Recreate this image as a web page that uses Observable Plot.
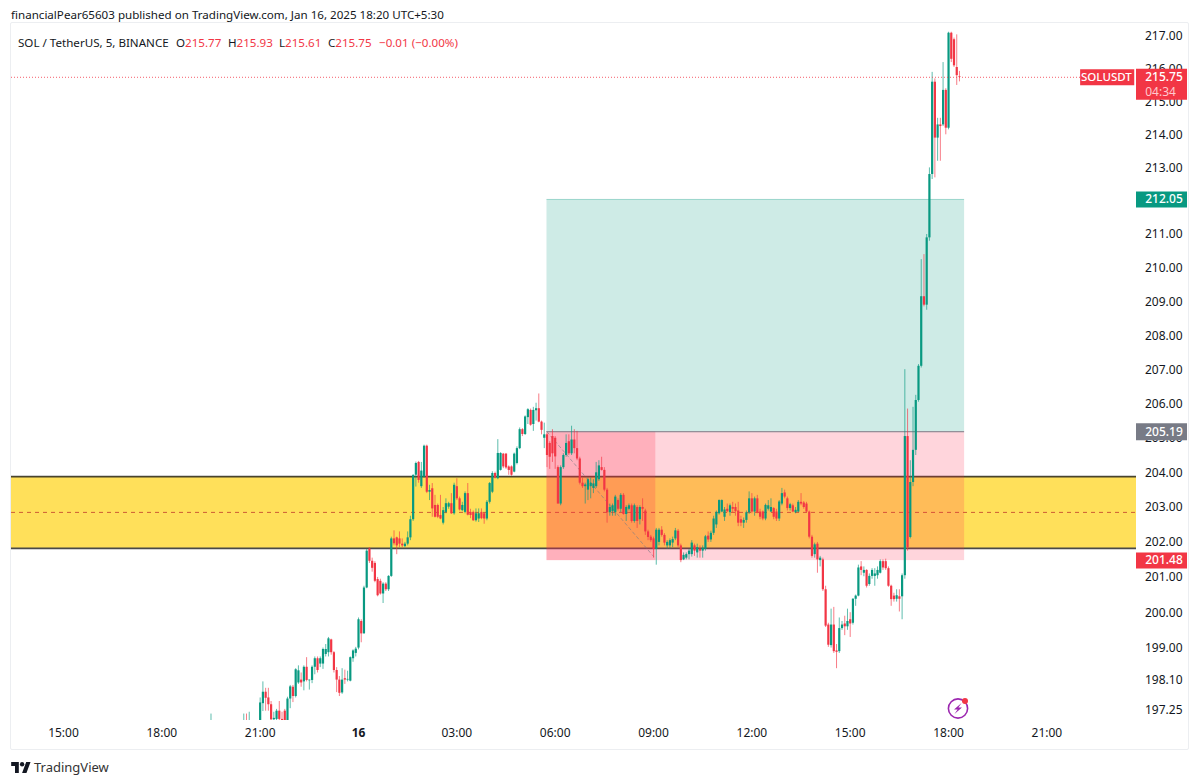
<!DOCTYPE html>
<html><head><meta charset="utf-8">
<style>
html,body{margin:0;padding:0;background:#fff;width:1200px;height:784px;overflow:hidden}
#wrap{position:relative;width:1200px;height:784px;font-family:"Noto Sans",sans-serif;color:#131722}
#wrap svg.plot{position:absolute;left:0;top:0}
.t{position:absolute;white-space:nowrap;font-size:11.6px;line-height:16px}
.v{color:#f23645}
#pane{position:absolute;left:10px;top:22px;width:1177px;height:726px;border:1px solid #eceef1;border-radius:2px;box-sizing:content-box;pointer-events:none}
</style>
<script src="https://cdn.jsdelivr.net/npm/d3@7"></script>
<script src="https://cdn.jsdelivr.net/npm/@observablehq/plot@0.6"></script>
</head><body><div id="wrap"></div>
<script>
// ---- 5-minute bars, counted from 00:00 on the 16th ----
const sparseSlots = [-54,-42,-41,-40];
const firstSlot = -36, lastSlot = 220;
const opens = [196.9,196.9,196.95,196.9,
196.9,197.44,197.76,197.6,197.41,196.99,197.0,197.23,197.0,197.23,
196.95,197.57,197.9,197.64,198.02,198.1,198.05,198.46,198.08,198.09,
198.46,198.7,198.55,198.55,198.82,198.87,199.23,198.87,198.37,198.1,
197.74,198.14,198.1,198.07,198.7,198.85,199.0,199.75,199.4,200.7,
201.81,201.46,201.4,200.94,200.89,200.53,200.81,200.65,201.03,202.1,
202.13,202.1,201.95,201.88,201.95,202.13,202.65,203.93,204.3,203.6,
203.88,204.77,203.44,203.54,203.06,203.06,202.77,202.55,202.86,203.01,
203.11,202.82,203.6,203.25,202.91,202.86,203.4,202.86,202.86,202.62,
202.67,202.86,202.82,202.67,203.15,203.44,203.98,203.83,204.07,204.54,
204.54,204.17,204.17,204.02,204.27,204.7,205.25,205.11,205.6,205.81,
205.4,205.8,205.86,205.47,205.0,205.1,204.85,205.05,205.0,204.15,
203.1,204.15,204.5,204.9,204.55,204.95,204.7,204.4,203.7,203.6,
203.5,203.6,203.55,203.6,203.8,204.15,204.07,203.5,202.85,202.88,
202.85,203.2,202.95,203.35,202.8,202.95,203.05,202.6,203.0,202.65,
203.0,202.9,202.3,202.15,202.1,201.8,202.0,202.35,202.2,201.9,
201.9,201.98,202.1,202.32,201.9,201.5,201.55,201.65,201.65,201.9,
201.7,201.8,201.75,201.8,202.18,202.07,202.26,202.5,202.82,202.87,
202.72,202.95,202.85,203.0,203.0,202.9,202.65,202.55,202.63,202.85,
203.25,202.87,203.25,202.87,202.87,202.67,202.95,202.87,202.97,202.87,
202.67,203.1,203.42,203.25,202.97,203.05,202.85,202.87,203.15,203.13,
203.1,202.87,202.15,201.65,201.95,201.48,201.5,200.65,199.65,199.07,
199.65,198.92,198.9,199.55,199.68,199.6,199.8,199.7,200.38,200.47,
201.3,201.12,201.2,200.8,201.03,201.03,201.05,201.12,201.45,201.45,
201.25,200.75,200.47,200.38,200.45,200.45,201.05,205.05,202.14,203.72,
204.65,206.1,207.1,209.15,208.9,210.9,212.8,215.6,213.9,214.3,
214.3,215.35,214.2,217.1,216.9,216.05,215.77];
const closes = [196.95,196.95,196.9,196.95,
197.46,197.76,197.59,197.41,196.99,197.03,197.23,197.0,196.95,196.95,
197.57,197.91,197.64,198.39,198.36,198.02,198.46,198.09,198.1,198.46,
198.7,198.37,198.7,198.96,198.96,199.26,198.87,198.37,198.1,197.73,
198.1,198.1,198.12,198.73,198.92,198.97,199.8,199.4,200.7,201.75,
201.46,201.26,200.89,200.48,200.53,200.81,200.65,201.03,202.1,201.96,
201.9,201.95,201.9,201.95,202.13,202.65,203.92,204.27,203.78,204.05,
204.77,203.44,203.49,202.96,202.72,202.72,202.67,202.91,203.11,203.11,
202.82,203.64,203.25,202.93,203.06,203.4,202.78,202.77,202.62,202.82,
202.82,202.68,202.67,203.15,203.69,203.98,203.85,204.56,204.56,204.17,
204.14,204.07,203.93,204.54,204.7,205.25,205.11,205.62,205.83,205.38,
205.81,205.86,205.47,205.23,205.1,204.5,204.45,204.55,204.46,203.1,
204.15,204.5,204.85,204.55,204.95,204.7,204.4,203.7,203.6,203.65,
203.8,203.7,203.68,204.0,204.2,204.07,203.5,202.85,203.0,203.05,
203.3,202.95,203.35,202.8,203.0,203.05,202.6,203.05,202.6,203.0,
202.95,202.3,202.14,202.05,201.8,202.35,202.35,202.2,201.98,202.0,
202.05,202.08,202.33,201.9,201.48,201.63,201.65,201.75,201.98,201.75,
201.85,201.75,201.83,202.16,202.07,202.26,202.67,202.86,203.2,203.2,
202.93,202.88,203.05,202.95,202.88,202.55,202.55,202.63,202.85,203.25,
202.87,203.25,202.85,202.72,202.67,203.06,203.05,203.0,202.72,202.67,
203.16,203.4,203.3,202.97,203.08,202.87,202.92,203.15,203.1,203.0,
202.87,202.15,201.6,201.93,201.5,201.55,200.65,199.62,199.08,199.65,
198.9,198.88,199.55,199.65,199.6,199.75,199.68,200.38,200.47,201.27,
201.2,201.2,200.75,201.03,201.2,201.1,201.2,201.45,201.27,201.25,
200.75,200.37,200.37,200.48,200.38,201.05,205.05,201.85,203.72,204.65,
206.1,207.1,209.15,208.9,210.9,212.8,215.6,213.9,214.3,214.25,
215.35,214.2,217.1,216.3,216.1,215.8,215.75];
const highs = [197.15,197.15,197.15,197.2,
197.6,198.05,197.87,197.87,197.5,197.2,197.28,197.5,197.2,197.28,
197.62,197.95,197.95,198.42,198.5,198.3,198.5,198.73,198.1,198.5,
198.75,198.75,198.75,199.0,199.1,199.3,199.25,198.9,198.45,198.2,
198.42,198.38,198.35,198.75,198.95,199.02,199.85,199.8,200.75,201.8,
201.85,201.55,201.45,201.0,200.95,200.85,200.85,201.05,202.15,202.33,
202.15,202.3,202.1,202.0,202.3,202.75,203.95,204.31,204.33,204.3,
204.8,204.8,203.64,203.69,203.35,203.1,203.35,203.0,203.25,203.15,
203.4,203.7,203.83,203.3,203.15,203.45,203.69,202.95,202.9,202.96,
202.96,202.96,202.85,203.2,203.72,204.03,204.02,204.96,204.58,204.56,
204.56,204.2,204.2,204.57,204.75,205.3,205.28,205.65,205.86,205.85,
205.9,206.02,206.29,205.5,205.44,205.15,204.9,205.25,205.05,204.2,
204.2,204.55,205.1,205.1,205.35,205.25,205.2,204.45,203.85,203.7,
203.85,203.85,203.8,204.3,204.35,204.45,204.15,203.55,203.1,203.1,
203.35,203.25,203.4,203.4,203.05,203.1,203.1,203.1,203.05,203.05,
203.25,202.95,202.35,202.2,202.15,202.4,202.4,202.45,202.25,202.05,
202.1,202.15,202.4,202.37,201.95,201.7,201.7,201.8,202.05,201.95,
201.95,201.9,201.9,202.2,202.3,202.32,202.75,202.9,203.22,203.22,
203.0,203.1,203.1,203.15,203.1,203.15,202.75,202.7,202.9,203.45,
203.4,203.3,203.35,202.95,202.9,203.1,203.2,203.25,203.0,202.95,
203.2,203.55,203.5,203.3,203.12,203.1,203.0,203.2,203.4,203.17,
203.15,202.9,202.2,201.98,202.0,201.6,201.55,200.75,199.7,200.1,
200.15,199.1,199.85,199.75,199.9,200.1,200.0,200.4,200.5,201.35,
201.45,201.3,201.22,201.1,201.25,201.25,201.3,201.5,201.5,201.52,
201.3,200.78,200.55,200.65,200.65,201.1,207.0,205.85,204.35,205.9,
206.25,207.15,210.25,210.4,211.0,213.0,215.9,215.7,214.5,214.5,
216.2,215.4,217.13,217.13,216.95,217.05,215.93];
const lows = [196.8,196.8,196.8,196.8,
196.8,197.22,197.23,197.23,196.8,196.8,196.8,196.8,196.8,196.8,
196.85,197.3,197.47,197.6,197.98,197.9,197.8,198.05,197.82,198.0,
198.25,198.3,198.45,198.4,198.75,198.75,198.8,198.3,197.75,197.64,
197.7,197.98,198.05,198.05,198.6,198.75,198.95,199.15,199.4,200.68,
201.4,201.15,200.85,200.45,200.5,200.26,200.6,200.6,201.0,201.9,
201.65,201.85,201.85,201.85,201.9,202.05,202.6,203.59,203.7,203.55,
203.85,203.4,203.2,202.72,202.7,202.68,202.65,202.5,202.82,202.95,
202.8,202.78,203.2,202.9,202.88,202.82,202.76,202.68,202.6,202.58,
202.57,202.65,202.52,202.62,203.1,203.4,203.82,203.8,204.05,204.12,
204.1,203.93,203.9,204.0,204.23,204.67,205.05,205.08,205.4,205.35,
205.2,205.5,205.45,205.1,204.7,204.15,204.1,204.3,204.1,203.1,
203.05,204.1,204.45,204.5,204.5,204.55,204.35,203.65,203.55,203.1,
203.2,203.25,203.4,203.55,203.75,204.05,203.45,202.55,202.75,202.75,
202.75,202.9,202.85,202.78,202.6,202.9,202.55,202.55,202.4,202.5,
202.6,202.2,202.05,202.0,201.55,201.35,201.9,202.15,201.9,201.8,
201.8,201.85,202.05,201.85,201.42,201.48,201.5,201.5,201.58,201.6,
201.55,201.55,201.55,201.75,202.0,202.0,202.2,202.4,202.78,202.85,
202.6,202.85,202.75,202.85,202.75,202.45,202.45,202.4,202.55,202.8,
202.82,202.75,202.82,202.65,202.62,202.62,202.9,202.85,202.65,202.6,
202.6,203.05,203.25,202.9,202.9,202.85,202.82,202.85,203.05,202.95,
202.85,202.1,201.55,201.55,201.12,201.3,200.6,199.58,199.02,199.0,
198.85,198.42,198.85,199.5,199.35,199.5,199.3,199.65,200.18,200.45,
201.05,201.02,200.7,200.75,200.95,200.75,200.95,201.1,201.2,201.2,
200.72,200.18,200.3,200.3,200.02,199.8,200.95,201.75,202.1,203.6,
204.5,206.05,207.05,208.85,208.75,210.8,212.65,212.7,213.2,213.2,
214.25,214.0,214.15,216.2,216.05,215.5,215.61];

const priceTicks = [217,216,215,214,213,212,211,210,209,208,207,206,205,204,203,202,201,200,199,198.1,197.25];
const timeTicks  = [-9,-6,-3,3,6,9,12,15,18,21];
const timeLabels = ["15:00","18:00","21:00","03:00","06:00","09:00","12:00","15:00","18:00","21:00"];
const dayTick = [0], dayLabel = "16";

const zoneTop = 203.89, zoneMid = 202.86, zoneBottom = 201.83;
const targetPrice = 212.05, entryPrice = 205.19, stopPrice = 201.48, lastPrice = 215.75;
const posStart = 5.75, posEnd = 18.49, stopHit = 9.07;
const entryPath = [{h:5.75,p:205.19},{h:9.0,p:201.6}];

const green = "#089981", red = "#f23645", stopFill = "#ff2e4f";
const xMin = -10.586, xMax = 23.734, axisEnd = 25.29, tagStart = 22.03, tagEnd = 23.68, tagText = 24.03;

const slots = sparseSlots.concat(d3.range(firstSlot, lastSlot + 1));
const bars = slots.map((s,i)=>({h:s/12,o:opens[i],c:closes[i],hi:highs[i],lo:lows[i],col:closes[i]>=opens[i]?green:red}));

const plot = Plot.plot({
  width:1200, height:784, marginTop:22, marginBottom:64, marginLeft:11, marginRight:64,
  style:{background:"transparent",fontFamily:'"Noto Sans",sans-serif'},
  x:{domain:[xMin,xMax],label:null},
  y:{type:"log",domain:[196.97,217.43],label:null},
  marks:[
    Plot.rect([0],{x1:xMin,x2:xMax,y1:zoneBottom,y2:zoneTop,fill:"#ffe05a"}),
    Plot.ruleY([zoneTop,zoneBottom],{x1:xMin,x2:xMax,stroke:"#1c1c1c",strokeWidth:1.8,strokeOpacity:.8}),
    Plot.ruleY([zoneMid],{x1:xMin,x2:xMax,stroke:"#c4452f",strokeWidth:1,strokeDasharray:"4,4",strokeOpacity:.85}),
    Plot.rect([0],{x1:posStart,x2:posEnd,y1:entryPrice,y2:targetPrice,fill:green,fillOpacity:.2}),
    Plot.rect([0],{x1:posStart,x2:posEnd,y1:stopPrice,y2:entryPrice,fill:stopFill,fillOpacity:.2}),
    Plot.rect([0],{x1:posStart,x2:stopHit,y1:stopPrice,y2:entryPrice,fill:stopFill,fillOpacity:.22}),
    Plot.ruleY([entryPrice],{x1:posStart,x2:posEnd,stroke:"#787b86",strokeWidth:1}),
    Plot.ruleY([targetPrice],{x1:posStart,x2:posEnd,stroke:green,strokeWidth:1,strokeOpacity:.25}),
    Plot.line(entryPath,{x:"h",y:"p",stroke:"#787b86",strokeWidth:1,strokeDasharray:"3,3",strokeOpacity:.6}),
    Plot.ruleX(bars,{x:"h",y1:"lo",y2:"hi",stroke:"col",strokeWidth:1,strokeOpacity:.65,clip:"frame"}),
    Plot.ruleX(bars,{x:"h",y1:"o",y2:"c",stroke:"col",strokeWidth:2.2,clip:"frame"}),
    Plot.ruleY([lastPrice],{x1:xMin,x2:tagStart,stroke:red,strokeWidth:1,strokeDasharray:"1,2",strokeOpacity:.8}),
    Plot.axisY(priceTicks,{anchor:"right",tickSize:0,tickPadding:8.5,fontSize:12,fill:"#131722",tickFormat:d3.format(".2f"),label:null}),
    Plot.axisX(timeTicks,{anchor:"bottom",tickSize:0,tickPadding:8,fontSize:12,fill:"#131722",tickFormat:d=>timeLabels[timeTicks.indexOf(d)],label:null}),
    Plot.axisX(dayTick,{anchor:"bottom",tickSize:0,tickPadding:8,fontSize:12,fontWeight:"bold",fill:"#131722",tickFormat:()=>dayLabel,label:null}),
    // price tags on the axis
    Plot.ruleY([targetPrice],{x1:xMax,x2:axisEnd,stroke:green,strokeWidth:16}),
    Plot.ruleY([entryPrice],{x1:xMax,x2:axisEnd,stroke:"#787b86",strokeWidth:17}),
    Plot.ruleY([stopPrice],{x1:xMax,x2:axisEnd,stroke:red,strokeWidth:16}),
    Plot.ruleY([lastPrice],{x1:xMax,x2:axisEnd,stroke:red,strokeWidth:31,dy:7}),
    Plot.ruleY([lastPrice],{x1:tagStart,x2:tagEnd,stroke:red,strokeWidth:16}),
    Plot.text([targetPrice,entryPrice,stopPrice,lastPrice],{x:tagText,y:d=>d,dx:-1,textAnchor:"start",text:d=>d3.format(".2f")(d),fill:"#fff",fontSize:12,fontWeight:500}),
    Plot.text(["04:34"],{x:tagText,y:lastPrice,dx:-1,dy:15,textAnchor:"start",fill:"#ffc9ce",fontSize:12}),
    Plot.text(["SOLUSDT"],{x:tagEnd,y:lastPrice,dx:-3,textAnchor:"end",fill:"#fff",fontSize:11.5,fontWeight:500})
  ]
});
const wrap = document.getElementById("wrap");
wrap.appendChild(plot);
const html = `
<div id="pane"></div>
<div class="t" style="left:11px;top:7px;font-size:11.6px;color:#131722">financialPear65603 published on TradingView.com, Jan 16, 2025 18:20 UTC+5:30</div>
<div class="t" style="left:18px;top:35px">SOL / TetherUS, 5, BINANCE</div>
<div class="t" style="left:176px;top:35px">O<span class="v">215.77</span></div>
<div class="t" style="left:228px;top:35px">H<span class="v">215.93</span></div>
<div class="t" style="left:279px;top:35px">L<span class="v">215.61</span></div>
<div class="t" style="left:328px;top:35px">C<span class="v">215.75</span></div>
<div class="t v" style="left:379px;top:35px">−0.01 (−0.00%)</div>
<svg style="position:absolute;left:947px;top:696px" width="24" height="24" viewBox="0 0 24 24">
 <circle cx="11" cy="12.5" r="9.6" fill="none" stroke="#9c27b0" stroke-width="1.6"/>
 <path d="M14.5 7 L7 13.5 L10.6 13.5 L7.5 18 L15 11.5 L11.4 11.5 Z" fill="#9c27b0"/>
 <circle cx="18" cy="5" r="3" fill="#f23645"/>
</svg>
<svg style="position:absolute;left:11px;top:761px" width="20" height="12" viewBox="0 0 36 22">
 <path d="M14 22H7V9H0V2h14v20zM28 22h-8l7.5-20h8L28 22z" fill="#131722"/><circle cx="20" cy="6" r="4" fill="#131722"/>
</svg>
<div class="t" style="left:34px;top:759px;font-size:13px;color:#333">TradingView</div>`;
wrap.insertAdjacentHTML("beforeend", html);
if(!(opens.length===slots.length&&closes.length===slots.length&&highs.length===slots.length&&lows.length===slots.length)) console.error("length mismatch",opens.length,closes.length,highs.length,lows.length,slots.length);
</script></body></html>
